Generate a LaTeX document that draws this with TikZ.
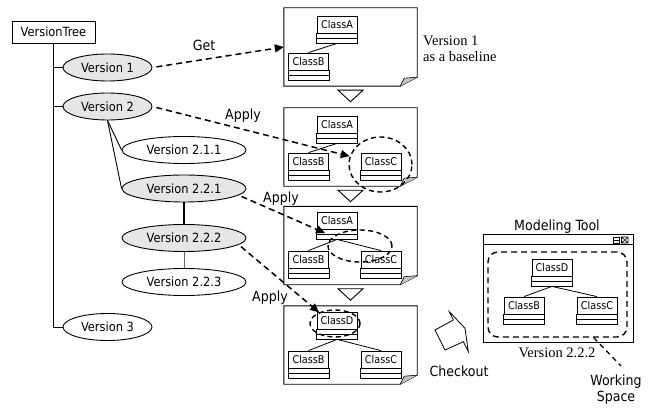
\documentclass[tikz,border=0pt]{standalone}
\usepackage{fontspec}
\usetikzlibrary{shapes.geometric,arrows.meta}
\newfontfamily\diagsans{DejaVu Sans Condensed}
\newfontfamily\diagserif{Liberation Serif}
\definecolor{verfill}{HTML}{E6E6E6}
\definecolor{foldgray}{HTML}{C4C4C4}

\tikzset{
  ver/.style={ellipse, draw, line width=0.9pt, minimum height=27pt, inner sep=0pt,
    font=\diagsans\fontsize{12.7}{14}\selectfont},
  vershort/.style={ver, minimum width=89pt},
  verlong/.style={ver, minimum width=124pt},
  cur/.style={fill=verfill},
  treebox/.style={draw, line width=0.9pt, minimum width=83pt, minimum height=22pt, inner sep=0pt,
    font=\diagsans\fontsize{12.7}{14}\selectfont},
  clsname/.style={draw, line width=0.8pt, minimum width=40pt, minimum height=17pt, inner sep=0pt,
    fill=white, font=\diagsans\fontsize{10.7}{12}\selectfont},
  clsbox/.style={draw, line width=0.8pt},
  panel/.style={minimum width=133pt, minimum height=78pt, inner sep=0pt},
  lbl/.style={font=\diagsans\fontsize{14}{16}\selectfont, inner sep=0pt},
  note/.style={font=\diagserif\fontsize{14.5}{15.5}\selectfont, inner sep=0pt},
  flow/.style={line width=1.5pt, dash pattern=on 6pt off 4pt,
    -{Triangle[length=9pt,width=8pt]}},
  hl/.style={ellipse, draw, line width=1.4pt, dash pattern=on 5pt off 3.5pt, inner sep=0pt},
  assoc/.style={line width=0.8pt},
  nexttri/.style={draw, line width=0.9pt, fill=white},
}

% a document sheet with a folded bottom-right corner
\newcommand\docpanel[2]{%
  \node[panel] (#1) at (#2) {};
  \draw[line width=0.9pt] (#1.north west) -- (#1.north east) -- ([yshift=9pt]#1.south east)
    -- ([xshift=-17pt]#1.south east) -- (#1.south west) -- cycle;
  \filldraw[fill=foldgray, line width=0.6pt] ([yshift=9pt]#1.south east)
    -- ([xshift=-13pt,yshift=8pt]#1.south east) -- ([xshift=-17pt]#1.south east);
  \draw[nexttri] ([xshift=-12.5pt,yshift=-4pt]#1.south) -- ([xshift=12.5pt,yshift=-4pt]#1.south)
    -- ([yshift=-15.5pt]#1.south) -- cycle;
}
\newcommand\lastpanel[2]{%
  \node[panel] (#1) at (#2) {};
  \draw[line width=0.9pt] (#1.north west) -- (#1.north east) -- ([yshift=9pt]#1.south east)
    -- ([xshift=-17pt]#1.south east) -- (#1.south west) -- cycle;
  \filldraw[fill=foldgray, line width=0.6pt] ([yshift=9pt]#1.south east)
    -- ([xshift=-13pt,yshift=8pt]#1.south east) -- ([xshift=-17pt]#1.south east);
}
% a UML class: name compartment plus two empty compartments
\newcommand\umlclass[3]{%
  \node[clsname] (#1) at (#2) {#3};
  \draw[clsbox, fill=white] (#1.south west) rectangle ([yshift=-5pt]#1.south east);
  \draw[clsbox, fill=white] ([yshift=-5pt]#1.south west) rectangle ([yshift=-10pt]#1.south east);
  \coordinate (#1-b) at ([yshift=-10pt]#1.south);
}

\begin{document}
\begin{tikzpicture}[x=1pt,y=-1pt]
\useasboundingbox (0,0) rectangle (650,409);

% ---------- version tree ----------
\node[treebox] (vt) at (53.5,32) {VersionTree};
\node[vershort, cur] (v1) at (107.5,67.5) {Version 1};
\node[vershort, cur] (v2) at (107.5,106.5) {Version 2};
\node[verlong] (v211) at (184,150) {Version 2.1.1};
\node[verlong, cur] (v221) at (184,188.5) {Version 2.2.1};
\node[verlong, cur] (v222) at (184,238) {Version 2.2.2};
\node[verlong] (v223) at (184,282) {Version 2.2.3};
\node[vershort] (v3) at (107.5,327) {Version 3};

\draw[line width=0.9pt] (vt.south) |- (v3.west);
\draw[line width=1.5pt] (vt.south) |- (v1.west);
\draw[line width=1.5pt] (vt.south) |- (v2.west);
\draw[line width=0.9pt] (v2.south) -- (v211.west);
\draw[line width=0.9pt] (v2.south) -- (v221.west);
\draw[line width=2pt] (v221) -- (v222);
\draw[line width=0.8pt, black!60] (v222) -- (v223);

% ---------- model snapshots ----------
\docpanel{p1}{350.5,47}
\docpanel{p2}{350.5,147}
\docpanel{p3}{350.5,245.5}
\lastpanel{p4}{350.5,345}

\umlclass{a1}{337,24.5}{ClassA}
\umlclass{b1}{308.5,61.5}{ClassB}
\draw[assoc] (a1-b) -- (b1.north);

\umlclass{a2}{337,124.5}{ClassA}
\umlclass{b2}{308.5,161.5}{ClassB}
\umlclass{c2}{381,161.5}{ClassC}
\draw[assoc] (a2-b) -- (b2.north);

\umlclass{a3}{337,220.5}{ClassA}
\umlclass{b3}{308.5,259.5}{ClassB}
\umlclass{c3}{381,259.5}{ClassC}
\draw[assoc] (a3-b) -- (b3.north);
\draw[assoc] (a3-b) -- (c3.north);

\umlclass{d4}{337,320.5}{ClassD}
\umlclass{b4}{308.5,359.5}{ClassB}
\umlclass{c4}{381,359.5}{ClassC}
\draw[assoc] (d4-b) -- (b4.north);
\draw[assoc] (d4-b) -- (c4.north);

% changed parts
\node[hl, minimum width=63pt, minimum height=55pt] (hl2) at (380.5,164.5) {};
\node[hl, minimum width=64pt, minimum height=32pt] (hl3) at (360,246) {};
\node[hl, minimum width=50pt, minimum height=27pt] (hl4) at (335,323.5) {};
\coordinate (t3) at (325,233);

\node[note, anchor=west, align=left] (base) at (423,49) {Version 1\\as a baseline};

% ---------- get / apply ----------
\draw[flow, shorten <=4pt] (v1.east) -- (p1.west);
\draw[flow, shorten <=4pt] (v2.east) -- (hl2.165);
\draw[flow, shorten <=3pt] (v221.-7) -- (t3);
\draw[flow, shorten <=3pt] (v222.-7) -- (hl4.145);
\node[lbl] (lget) at (204,45) {Get};
\node[lbl] (lap1) at (243,116) {Apply};
\node[lbl] (lap2) at (281,199) {Apply};
\node[lbl] (lap3) at (270,298) {Apply};

% ---------- checkout ----------
\draw[line width=0.8pt, fill=white] (449.3,311.7) -- (465,328.3) -- (468.3,351.7) -- (463.3,341.7)
  -- (445,350) -- (435,330) -- (453.3,320) -- cycle;
\node[lbl] (lco) at (459,371) {Checkout};

% ---------- modeling tool window ----------
\node[draw, line width=0.9pt, minimum width=150pt, minimum height=108pt, inner sep=0pt] (mt) at (558,288) {};
\draw[line width=0.9pt] ([yshift=-11pt]mt.north west) -- ([yshift=-11pt]mt.north east);
\draw[line width=0.6pt] (613,237) rectangle (619.5,243) (613,240) -- (619.5,240);
\draw[line width=0.6pt] (621.5,237) rectangle (628,243) (621.5,237) -- (628,243) (621.5,243) -- (628,237);
\node[lbl] (lmt) at (557,227) {Modeling Tool};

\node[draw, line width=1.4pt, dash pattern=on 6pt off 4pt, rounded corners=10pt,
  minimum width=139pt, minimum height=85pt, inner sep=0pt] (ws) at (557.5,294.5) {};
\umlclass{d5}{552,267.5}{ClassD}
\umlclass{b5}{524,305.5}{ClassB}
\umlclass{c5}{597,305.5}{ClassC}
\draw[assoc] (d5-b) -- (b5.north);
\draw[assoc] (d5-b) -- (c5.north);

\node[note] (lver) at (557,353) {Version 2.2.2};
\node[lbl, align=center] (lws) at (616,390) {Working\\Space};
\coordinate (wsend) at (621,366);
\draw[line width=1.3pt, dash pattern=on 5pt off 4pt] (ws.-50) -- (wsend);
\end{tikzpicture}
\end{document}
